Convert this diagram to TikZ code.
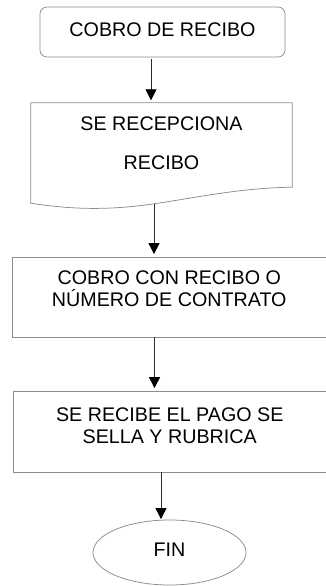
\documentclass[tikz,border=0pt]{standalone}
\usepackage{fontspec}
\setmainfont{Liberation Sans}
\usetikzlibrary{arrows.meta,shapes.geometric}
\definecolor{lineCol}{HTML}{8C8C8C}
\definecolor{arrCol}{HTML}{2B2B2B}
\tikzset{
  txt/.style={font=\fontsize{19.7}{21.8}\selectfont, align=center, inner sep=0pt},
  inicio/.style={txt, draw=lineCol, line width=0.75pt, rounded corners=7pt,
                 minimum width=245pt, minimum height=50pt, text depth=#1},
  caja/.style={txt, draw=lineCol, line width=0.75pt, text depth=#1},
  docbox/.style={txt, minimum width=261pt, minimum height=100pt, text depth=#1},
  docline/.style={draw=lineCol, line width=0.75pt},
  finbox/.style={txt, ellipse, draw=lineCol, line width=0.75pt,
                 minimum width=153pt, minimum height=65pt, text depth=#1},
  flecha/.style={-{Triangle[length=11pt,width=11pt,color=black]}, arrCol,
                 line width=0.8pt, shorten >=2.5pt},
}
\begin{document}
\begin{tikzpicture}[x=1pt,y=-1pt]
  \useasboundingbox (0,0) rectangle (325,586);
  \node[inicio=5.2pt] (inicio) at (162.5,32) {COBRO DE RECIBO};
  \node[docbox=19.8pt] (recep) at (161.5,153) {SE RECEPCIONA\\[18pt]RECIBO};
  \node[caja=16.5pt, minimum width=314.5pt, minimum height=80pt] (cobro) at (169.25,297)
       {COBRO CON RECIBO O\\NÚMERO DE CONTRATO};
  \node[caja=12.5pt, minimum width=313.5pt, minimum height=81pt] (pago) at (169.75,431.5)
       {SE RECIBE EL PAGO SE\\SELLA Y RUBRICA};
  \node[finbox=6pt] (fin) at (169.5,552.5) {FIN};

  % documento con borde ondulado
  \draw[docline] (recep.north west) -- (recep.north east) -- ([yshift=16pt]recep.south east)
    .. controls (240,188) and (200,197) .. (153,204)
    .. controls (110,210) and (75,210) .. (recep.south west) -- cycle;

  \draw[flecha, shorten <=1.5pt] (inicio.south -| 151,0) -- (recep.north -| 151,0);
  \draw[flecha, shorten <=0.5pt] (recep.south -| 154,0) -- (cobro.north -| 154,0);
  \draw[flecha] (cobro.south -| 154.5,0) -- (pago.north -| 154.5,0);
  \draw[flecha, shorten >=0.5pt] (pago.south -| 161,0) -- (fin.north -| 161,0);
\end{tikzpicture}
\end{document}
